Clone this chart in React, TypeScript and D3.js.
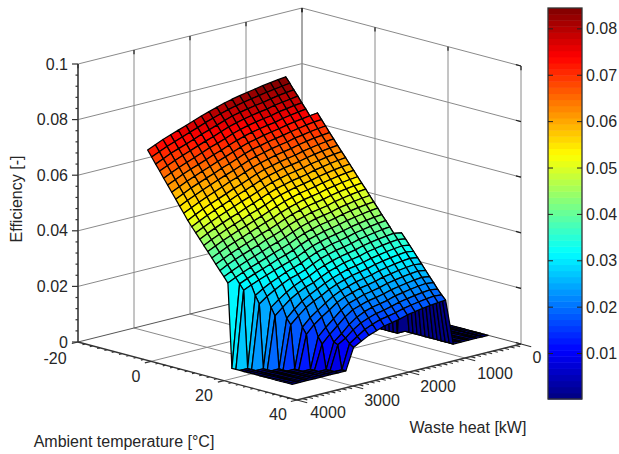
import React from "react";
import * as d3 from "d3";

// Ambient temperature grid [°C]
const temps = [-8.6,-7.5,-6.4,-5.3,-4.2,-3.1,-2,-0.9,0.2,1.3,2.4,3.5,4.6,5.7,6.8,7.9,9,10.1,11.2,12.3,13.4,14.5,15.6,16.7,17.8,18.9,20,21.1,22.2,23.3,24.4,25.5,26.6,27.7,28.8,29.9,31];
// Waste heat grid [kW]
const wastes = [0,106,212,349,486,623,760,897,1034,1171,1308,1445,1582,1719,1856,1993,2130,2267,2404,2541,2678,2815,2952,3089,3226,3363,3500];
// Efficiency x 10^4, one row per temperature, one column per waste heat
const effRows = [
[0,0,0,0,0,0,0,0,844,841,837,833,828,823,818,812,805,797,788,779,769,759,749,739,729,717,705],
[0,0,0,0,0,0,0,0,825,821,817,813,808,803,798,792,785,777,768,759,748,738,728,718,708,696,684],
[0,0,0,0,0,0,0,0,805,802,798,793,787,783,778,772,766,757,747,737,728,717,707,697,687,674,662],
[0,0,0,0,0,0,0,0,786,782,778,774,767,763,758,752,745,737,727,716,707,697,686,676,665,653,641],
[0,0,0,0,0,0,0,0,766,763,758,754,747,743,738,732,725,717,706,696,687,676,665,655,644,632,619],
[0,0,0,0,0,0,0,0,747,743,739,734,727,723,718,712,705,696,686,675,666,655,644,634,623,610,598],
[0,0,0,0,0,0,0,730,727,723,719,714,708,703,698,691,685,676,666,655,645,634,624,613,602,589,576],
[0,0,0,0,0,0,0,710,708,704,699,694,688,683,678,671,665,656,645,634,625,613,603,592,581,568,555],
[0,0,0,0,0,0,0,691,688,684,679,675,668,663,658,651,644,636,625,614,604,593,582,571,559,547,533],
[0,0,0,0,0,0,0,671,668,665,660,655,648,643,638,631,624,615,604,593,584,572,561,550,538,525,512],
[0,0,0,0,0,0,0,652,649,645,640,635,628,623,618,611,604,595,584,573,563,551,540,529,517,504,490],
[0,0,0,0,0,0,0,633,630,626,621,616,609,604,599,592,585,576,565,554,544,532,521,510,498,485,471],
[0,0,0,0,0,0,0,614,611,607,602,597,590,585,580,573,566,556,545,534,524,513,502,491,479,466,453],
[0,0,0,0,0,0,0,596,593,589,584,579,571,566,561,554,547,537,526,515,505,493,483,472,460,448,434],
[0,0,0,0,0,0,0,577,574,570,565,560,553,547,542,535,528,518,506,495,486,474,464,453,441,429,415],
[0,0,0,0,0,0,0,558,555,551,546,541,534,529,524,516,508,498,487,476,466,455,445,434,423,410,397],
[0,0,0,0,0,0,0,539,536,532,527,522,515,510,505,497,489,479,467,457,447,436,425,415,404,391,378],
[0,0,0,0,0,0,0,520,517,513,508,503,496,491,486,478,470,460,448,437,428,417,406,396,385,372,359],
[0,0,0,0,0,0,0,502,499,495,490,485,477,472,467,459,451,441,428,418,409,397,387,377,366,354,340],
[0,0,0,0,0,0,0,483,480,476,471,466,458,453,448,440,432,421,409,398,389,378,368,358,347,335,322],
[0,0,0,0,0,0,0,464,461,457,452,447,440,434,429,421,413,402,389,379,370,359,349,339,328,316,303],
[0,0,0,0,0,0,0,445,442,438,433,428,421,415,410,402,394,383,370,360,351,340,330,320,309,297,0],
[0,0,0,0,0,0,0,426,423,419,414,409,402,396,391,383,375,363,350,340,331,321,311,301,290,278,0],
[0,0,0,0,0,0,0,408,405,401,396,391,383,377,372,364,356,344,331,321,312,300,288,273,256,0,0],
[0,0,0,0,0,0,0,389,386,382,377,372,364,358,353,345,337,325,311,301,293,280,266,249,229,0,0],
[0,0,0,0,0,0,365,370,367,363,358,353,345,339,334,326,317,306,292,282,270,254,235,214,0,0,0],
[0,0,0,0,0,0,347,351,348,344,339,334,326,321,316,307,298,286,272,263,250,233,211,187,0,0,0],
[0,0,0,0,0,0,328,332,329,325,320,315,308,302,297,288,279,267,253,239,223,201,175,0,0,0,0],
[0,0,0,0,0,0,310,314,311,307,302,297,289,283,278,269,260,248,233,220,204,181,156,0,0,0,0],
[0,0,0,0,0,0,291,295,292,288,283,278,270,264,259,250,241,228,210,191,171,144,0,0,0,0,0],
[0,0,0,0,0,0,272,276,273,269,264,259,251,245,240,231,222,209,189,171,150,122,0,0,0,0,0],
[0,0,0,0,0,0,253,257,254,250,245,240,232,226,221,212,203,185,161,137,110,0,0,0,0,0,0],
[0,0,0,0,0,0,234,238,235,231,226,221,213,207,202,193,184,165,140,116,88,0,0,0,0,0,0],
[0,0,0,0,0,0,216,220,217,213,208,203,194,188,183,174,161,141,115,92,0,0,0,0,0,0,0],
[0,0,0,0,0,0,197,201,198,194,189,184,176,169,164,155,144,126,103,86,0,0,0,0,0,0,0],
[0,0,0,0,0,0,180,182,179,175,170,165,157,151,146,136,124,106,87,0,0,0,0,0,0,0,0],
[0,0,0,0,0,0,165,163,160,156,151,146,138,132,127,117,107,93,77,0,0,0,0,0,0,0,0],
];

const tempTicks = [-20,0,20,40];
const wasteTicks = [0,1000,2000,3000,4000];
const zTicks = [0,0.02,0.04,0.06,0.08,0.1];
const zTickLabels = ["0","0.02","0.04","0.06","0.08","0.1"];
const barTicks = [0.01,0.02,0.03,0.04,0.05,0.06,0.07,0.08];
const colorDomain = [0.0002,0.0845];

const FONT = "'Liberation Sans', Arial, sans-serif";
const TEXT = "#262626";
const AXIS = "#333333";
const GRID = "#8a8a8a";

// oblique projection of the 3-D box
const tScale = d3.scaleLinear().domain([-20,40]).range([0,1]);
const wScale = d3.scaleLinear().domain([0,4000]).range([0,1]);
const zScale = d3.scaleLinear().domain([0,0.1]).range([0,278]);
const proj = (T: number, W: number, z: number): [number, number] => {
  const t = tScale(T), w = wScale(W);
  return [302 + 219*t - 224*w, 286 + 58*t + 56*w - zScale(z)];
};

const jet = d3.range(64).map((i) => {
  const x = (i + 0.5)/64;
  const c = (v: number) => Math.round(255*Math.max(0, Math.min(1, v)));
  return `rgb(${c(1.5-Math.abs(4*x-3))},${c(1.5-Math.abs(4*x-2))},${c(1.5-Math.abs(4*x-1))})`;
});
const color = d3.scaleQuantize<string>().domain(colorDomain as [number,number]).range(jet);
const barY = d3.scaleLinear().domain(colorDomain).range([399,8]);

const line = d3.line();
const seg = (a: [number,number], b: [number,number]) => line([a,b]) as string;
const eff = (i: number, j: number) => (effRows[i][j] ?? 0)/10000;

function Surface() {
  const cells: React.ReactNode[] = [];
  for (let i = 0; i < temps.length-1; i++) {
    for (let j = 0; j < wastes.length-1; j++) {
      const pts = [
        proj(temps[i],wastes[j],eff(i,j)),
        proj(temps[i+1],wastes[j],eff(i+1,j)),
        proj(temps[i+1],wastes[j+1],eff(i+1,j+1)),
        proj(temps[i],wastes[j+1],eff(i,j+1)),
      ];
      cells.push(<path key={`${i}-${j}`} d={line(pts)+"Z"} fill={color(eff(i,j))} stroke="#000" strokeWidth={1.25} strokeLinejoin="round" />);
    }
  }
  return <g>{cells}</g>;
}

function Box() {
  const out: React.ReactNode[] = [];
  const g = (k: string, a: [number,number], b: [number,number], s = GRID, w = 1) =>
    out.push(<path key={k} d={seg(a,b)} stroke={s} strokeWidth={w} fill="none" />);
  const [T0,T1] = [tempTicks[0], tempTicks[3]];
  const [W0,W1] = [wasteTicks[0], wasteTicks[4]];
  zTicks.forEach((z) => {
    if (z === 0) return;
    g(`zl${z}`, proj(T0,W1,z), proj(T0,W0,z));
    g(`zr${z}`, proj(T0,W0,z), proj(T1,W0,z));
  });
  wasteTicks.forEach((W) => {
    g(`wv${W}`, proj(T0,W,0), proj(T0,W,0.1));
    if (W !== W0 && W !== W1) g(`wf${W}`, proj(T0,W,0), proj(T1,W,0));
  });
  tempTicks.forEach((T) => {
    g(`tv${T}`, proj(T,W0,0), proj(T,W0,0.1));
    if (T !== T0 && T !== T1) g(`tf${T}`, proj(T,W0,0), proj(T,W1,0));
  });
  g("back1", proj(T0,W1,0), proj(T0,W0,0), "#555555");
  g("back2", proj(T0,W0,0), proj(T1,W0,0), "#555555");
  zTicks.forEach((z) => {
    g(`nr${z}`, proj(T1,W0,z), proj(T1-1.4,W0,z), "#222", 1.2);
  });
  wasteTicks.forEach((W) => { g(`nw${W}`, proj(T0,W,0.1), proj(T0,W,0.0985), "#222", 1.2); });
  tempTicks.forEach((T) => { g(`nt${T}`, proj(T,W0,0.1), proj(T,W0,0.0985), "#222", 1.2); });
  return <g>{out}</g>;
}

function Axes() {
  const out: React.ReactNode[] = [];
  const g = (k: string, a: [number,number], b: [number,number], w = 1.3) =>
    out.push(<path key={k} d={seg(a,b)} stroke={AXIS} strokeWidth={w} fill="none" />);
  g("axz", proj(-20,4000,0), proj(-20,4000,0.1), 1.4);
  g("axt", proj(-20,4000,0), proj(40,4000,0));
  g("axw", proj(40,4000,0), proj(40,0,0));
  d3.range(0,26).forEach((k) => {
    const z = k*0.004;
    const [x,y] = proj(-20,4000,z);
    const major = k % 5 === 0;
    g(`tz${k}`, [x,y], [x-(major?6:2.5),y], 1.2);
  });
  d3.range(-20,41,2).forEach((T) => {
    const major = (T+20) % 20 === 0;
    g(`tt${T}`, proj(T,4000,0), proj(T,major?4110:4050,0), 1.2);
  });
  d3.range(0,4001,100).forEach((W) => {
    const major = W % 1000 === 0;
    g(`tw${W}`, proj(40,W,0), proj(major?42.8:41.3,W,0), 1.1);
  });
  return <g>{out}</g>;
}

function Colorbar() {
  const bands = color.range().map((c, i) => {
    const [a,b] = color.invertExtent(c);
    return <rect key={i} x={548} width={34} y={barY(b)} height={barY(a)-barY(b)+0.5} fill={c} />;
  });
  return (
    <g>
      {bands}
      <rect x={548} y={8} width={34} height={391} fill="none" stroke={AXIS} strokeWidth={1.3} />
      {barTicks.map((v) => (
        <g key={v}>
          <path d={seg([548,barY(v)],[553,barY(v)])} stroke="#222" strokeWidth={1} />
          <path d={seg([582,barY(v)],[577,barY(v)])} stroke="#222" strokeWidth={1} />
          <text x={586} y={barY(v)+5.5} fontSize={16} fill={TEXT} fontFamily={FONT}>{v.toFixed(2)}</text>
        </g>
      ))}
    </g>
  );
}

const tempLabelPos: [number,number][] = [[55,364],[136,382],[204,401],[278,420]];
const wasteLabelPos: [number,number][] = [[537,363],[495,379],[438,392],[382,406],[328,418]];

export default function App() {
  return (
    <svg width={619} height={454} viewBox="0 0 619 454" style={{position:"absolute",left:0,top:0,background:"#fff"}}>
      <Box />
      <Surface />
      <Axes />
      {zTicks.map((z,i) => (
        <text key={z} x={68} y={proj(-20,4000,z)[1]+5.5} textAnchor="end" fontSize={16} fill={TEXT} fontFamily={FONT}>{zTickLabels[i]}</text>
      ))}
      {tempTicks.map((T,i) => (
        <text key={T} x={tempLabelPos[i][0]} y={tempLabelPos[i][1]} textAnchor="middle" fontSize={16} fill={TEXT} fontFamily={FONT}>{T}</text>
      ))}
      {wasteTicks.map((W,i) => (
        <text key={W} x={wasteLabelPos[i][0]} y={wasteLabelPos[i][1]} textAnchor="middle" fontSize={16} fill={TEXT} fontFamily={FONT}>{W}</text>
      ))}
      <text transform="translate(22,199) rotate(-90)" textAnchor="middle" fontSize={16} fill={TEXT} fontFamily={FONT}>Efficiency [-]</text>
      <text x={468} y={433} textAnchor="middle" fontSize={16} fill={TEXT} fontFamily={FONT}>Waste heat [kW]</text>
      <text x={124} y={447} textAnchor="middle" fontSize={16} fill={TEXT} fontFamily={FONT}>Ambient temperature [°C]</text>
      <Colorbar />
    </svg>
  );
}
